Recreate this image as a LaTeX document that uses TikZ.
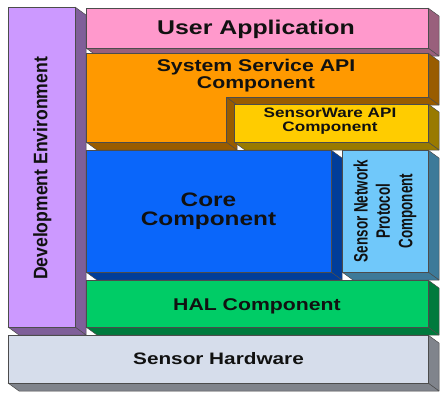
\documentclass[tikz,border=0pt]{standalone}
\usepackage{fontspec}
\setmainfont{Liberation Sans}
\usepackage{graphicx}

% layer colours: front face / extruded faces
\definecolor{devF}{HTML}{CC99FF}\definecolor{devS}{HTML}{7F5F99}
\definecolor{appF}{HTML}{FF99CC}\definecolor{appS}{HTML}{99607C}
\definecolor{sysF}{HTML}{FF9900}\definecolor{sysS}{HTML}{995C00}
\definecolor{swF}{HTML}{FFCC00}\definecolor{swS}{HTML}{997A00}
\definecolor{coreF}{HTML}{0A66FA}\definecolor{coreS}{HTML}{003D99}
\definecolor{snpF}{HTML}{70C8FA}\definecolor{snpS}{HTML}{3D7A99}
\definecolor{halF}{HTML}{00CC66}\definecolor{halS}{HTML}{007A3D}
\definecolor{hwF}{HTML}{D6DDEB}\definecolor{hwS}{HTML}{80848C}
\definecolor{ink}{HTML}{111111}

\tikzset{
  face/.style={draw=black!70, line width=0.5pt, line join=round},
  lbl/.style={font=\bfseries, text=ink, inner sep=0pt},
}

% extrusion depth (right, down)
\def\dx{11}\def\dy{8}

% rectangular slab: x0 y0 x1 y1 front side
\newcommand\slab[6]{%
  \filldraw[face, fill=#6] (#3,#2) -- ({#3+\dx},{#2+\dy}) -- ({#3+\dx},{#4+\dy}) -- (#3,#4) -- cycle;
  \filldraw[face, fill=#6] (#1,#4) -- (#3,#4) -- ({#3+\dx},{#4+\dy}) -- ({#1+\dx},{#4+\dy}) -- cycle;
  \filldraw[face, fill=#5] (#1,#2) rectangle (#3,#4);
}

\begin{document}
\begin{tikzpicture}[x=1pt, y=-1pt]
\useasboundingbox (0,0) rectangle (440,392);
\fill[white] (0,0) rectangle (440,392);

% Development Environment (vertical bar)
\slab{8}{7}{75}{327}{devF}{devS}

% User Application
\slab{86}{8}{428}{48}{appF}{appS}

% System Service API (L-shaped)
\filldraw[face, fill=sysS] (428,53) -- ({428+\dx},{53+\dy}) -- ({428+\dx},{97+\dy}) -- (428,97) -- cycle;
\filldraw[face, fill=sysS] (226,97) -- (428,97) -- ({428+\dx},{97+\dy}) -- ({226+\dx},{97+\dy}) -- cycle;
\filldraw[face, fill=sysS] (226,97) -- ({226+\dx},{97+\dy}) -- ({226+\dx},{142+\dy}) -- (226,142) -- cycle;
\filldraw[face, fill=sysS] (86,142) -- (226,142) -- ({226+\dx},{142+\dy}) -- ({86+\dx},{142+\dy}) -- cycle;
\filldraw[face, fill=sysF] (86,53) -- (428,53) -- (428,97) -- (226,97) -- (226,142) -- (86,142) -- cycle;

% SensorWare API
\slab{234}{104}{428}{142}{swF}{swS}

% Core
\slab{86}{150}{331}{272}{coreF}{coreS}

% Sensor Network Protocol
\slab{342}{150}{428}{272}{snpF}{snpS}

% HAL
\slab{86}{280}{428}{327}{halF}{halS}

% Sensor Hardware
\slab{8}{335}{428}{383}{hwF}{hwS}

% labels
\node[lbl, anchor=base] (app) at (256,34)
  {\fontsize{19.9}{22}\selectfont\scalebox{1.25}[1]{User Application}};
\node[lbl, anchor=base] (sys) at (256,71)
  {\fontsize{17}{17.5}\selectfont\scalebox{1.25}[1]{\begin{tabular}[t]{@{}c@{}}System Service API\\Component\end{tabular}}};
\node[lbl, anchor=base] (sw) at (330,117)
  {\fontsize{13.7}{14.5}\selectfont\scalebox{1.25}[1]{\begin{tabular}[t]{@{}c@{}}SensorWare API\\Component\end{tabular}}};
\node[lbl, anchor=base] (core) at (208.5,206.5)
  {\fontsize{19.5}{18.5}\selectfont\scalebox{1.25}[1]{\begin{tabular}[t]{@{}c@{}}Core\\Component\end{tabular}}};
\node[lbl, anchor=base] (hal) at (257,310)
  {\fontsize{17}{20}\selectfont\scalebox{1.25}[1]{HAL Component}};
\node[lbl, anchor=base] (hw) at (218.5,364)
  {\fontsize{16.6}{20}\selectfont\scalebox{1.25}[1]{Sensor Hardware}};
\node[lbl] (dev) at (42.4,168.5)
  {\fontsize{17.6}{20}\selectfont\rotatebox{90}{\scalebox{1}[1.11]{Development Environment}}};
\node[lbl] (snp) at (385.5,211)
  {\fontsize{13.4}{15.4}\selectfont\rotatebox{90}{\scalebox{1}[1.45]{\begin{tabular}{@{}c@{}}Sensor Network\\Protocol\\Component\end{tabular}}}};
\end{tikzpicture}
\end{document}
